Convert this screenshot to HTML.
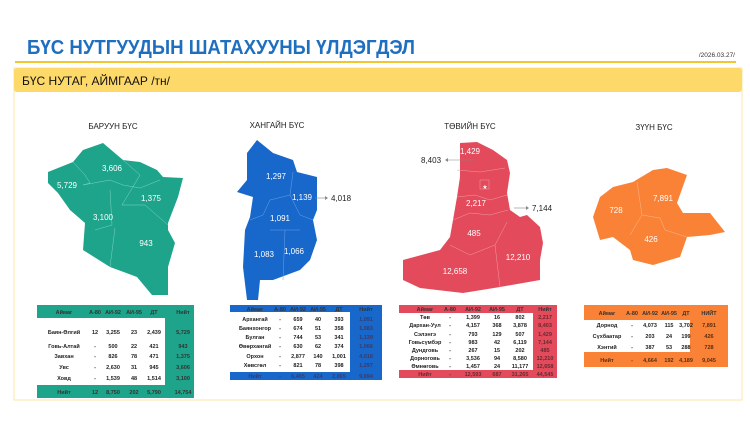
<!DOCTYPE html>
<html><head><meta charset="utf-8"><style>
html,body{margin:0;padding:0;background:#fff;}
svg{display:block;font-family:"Liberation Sans Narrow","Liberation Sans",sans-serif;}
</style></head><body>
<svg width="750" height="422" viewBox="0 0 750 422" xmlns="http://www.w3.org/2000/svg">
<rect width="750" height="422" fill="#fff"/>
<text x="27" y="54" font-size="20" font-weight="bold" fill="#1f6fc1" textLength="388" lengthAdjust="spacingAndGlyphs">БҮС НУТГУУДЫН ШАТАХУУНЫ ҮЛДЭГДЭЛ</text>
<text x="735" y="57" font-size="6.5" fill="#333" text-anchor="end">/2026.03.27/</text>
<rect x="15" y="61" width="721" height="2" fill="#f2c631"/>
<rect x="14" y="68" width="728" height="332" fill="#fff" stroke="#fbe7a8" stroke-width="1"/>
<rect x="14" y="68" width="728" height="24" rx="3" fill="#fcd968"/>
<text x="22" y="85" font-size="12" fill="#111" textLength="148" lengthAdjust="spacingAndGlyphs">БҮС НУТАГ, АЙМГААР /тн/</text>

<g font-size="8" fill="#222" text-anchor="middle">
<text x="113" y="129">БАРУУН БҮС</text>
<text x="277" y="128">ХАНГАЙН БҮС</text>
<text x="470" y="129">ТӨВИЙН БҮС</text>
<text x="654" y="130">ЗҮҮН БҮС</text>
</g>

<!-- teal map -->
<polygon fill="#1ea48a" points="48,172 73,162 83,150 103,143 123,160 140,162 157,170 163,177 183,178 178,197 168,223 168,230 175,243 168,267 168,295 152,295 137,277 110,267 83,250 85,223 70,210 58,193 48,183"/>
<g stroke="#7fd3c2" stroke-width="0.5" fill="none">
<polyline points="73,162 85,175 90,183 83,185"/><polyline points="83,185 110,180 123,185 140,188 160,180"/>
<polyline points="123,160 140,175 122,205"/><polyline points="122,205 145,205 168,225"/>
<polyline points="110,190 112,225 95,230"/><polyline points="115,228 110,267"/>
</g>
<g font-size="8" fill="#fff" text-anchor="middle">
<text x="67" y="188">5,729</text><text x="112" y="171">3,606</text><text x="151" y="201">1,375</text><text x="103" y="220">3,100</text><text x="146" y="246">943</text>
</g>

<!-- blue map -->
<polygon fill="#1868cc" points="257,140 273,153 293,160 297,172 317,177 317,210 313,220 317,240 310,260 300,270 273,280 260,280 258,300 247,300 243,267 245,230 250,217 253,197 237,192 247,180 247,153"/>
<g stroke="#6aa0e6" stroke-width="0.5" fill="none">
<polyline points="293,172 290,195 270,200 263,215 250,220"/><polyline points="290,195 300,215 313,220"/>
<polyline points="270,230 285,230 300,230"/><polyline points="285,230 283,280"/>
</g>
<g font-size="8" fill="#fff" text-anchor="middle">
<text x="276" y="179">1,297</text><text x="302" y="200">1,139</text><text x="280" y="221">1,091</text><text x="264" y="257">1,083</text><text x="294" y="254">1,066</text>
</g>
<line x1="315" y1="198" x2="325" y2="198" stroke="#888" stroke-width="0.6"/><polygon points="325,196 328,198 325,200" fill="#888"/>
<text x="331" y="201" font-size="8" fill="#222">4,018</text>

<!-- red map -->
<polygon fill="#e34a5b" points="460,143 477,142 493,150 507,160 510,173 507,193 510,210 520,217 527,215 540,227 543,243 540,260 540,280 500,287 463,293 420,288 403,280 403,260 440,250 450,237 453,220 457,197 460,177"/>
<g stroke="#f39aa3" stroke-width="0.5" fill="none">
<polyline points="457,170 480,172 505,168"/><polyline points="457,197 475,195 490,200 507,195"/>
<polyline points="453,220 470,213 490,215 508,210"/><polyline points="450,245 470,255 495,245 507,222"/>
<polyline points="495,245 500,287"/>
<rect x="480" y="180" width="9" height="9"/>
</g>
<g font-size="8" fill="#fff" text-anchor="middle">
<text x="470" y="154">1,429</text><text x="476" y="206">2,217</text><text x="474" y="236">485</text><text x="455" y="274">12,658</text><text x="518" y="260">12,210</text>
<text x="485" y="189" font-size="6">★</text>
</g>
<line x1="448" y1="160" x2="474" y2="160" stroke="#888" stroke-width="0.6"/><polygon points="448,158 445,160 448,162" fill="#888"/>
<text x="421" y="163" font-size="8" fill="#222">8,403</text>
<line x1="514" y1="208" x2="526" y2="208" stroke="#888" stroke-width="0.6"/><polygon points="526,206 529,208 526,210" fill="#888"/>
<text x="532" y="211" font-size="8" fill="#222">7,144</text>

<!-- orange map -->
<polygon fill="#f98237" points="593,217 600,197 613,187 633,182 653,170 667,168 687,175 677,203 683,213 710,213 725,232 710,235 687,237 680,257 653,265 633,260 630,250 613,237 600,240"/>
<g stroke="#fcb98a" stroke-width="0.5" fill="none">
<polyline points="637,182 642,215 630,235"/><polyline points="642,215 660,218 665,230 687,237"/>
</g>
<g font-size="8" fill="#fff" text-anchor="middle">
<text x="616" y="213">728</text><text x="663" y="201">7,891</text><text x="651" y="242">426</text>
</g>

<!-- Table 1 teal -->
<g font-size="5.5" font-weight="bold" text-anchor="middle">
<rect x="37" y="305" width="157" height="13" fill="#1ea48a"/>
<rect x="165" y="318" width="29" height="67" fill="#1ea48a"/>
<rect x="37" y="385" width="157" height="13" fill="#1ea48a"/>
<g fill="#333"><text x="64" y="314">Аймаг</text><text x="95" y="314">А-80</text><text x="113" y="314">АИ-92</text><text x="134" y="314">АИ-95</text><text x="154" y="314">ДТ</text><text x="183" y="314">Нийт</text></g>
<g fill="#222">
<text x="64" y="334">Баян-Өлгий</text><text x="95" y="334">12</text><text x="113" y="334">3,255</text><text x="134" y="334">23</text><text x="154" y="334">2,439</text>
<text x="64" y="348">Говь-Алтай</text><text x="95" y="348">-</text><text x="113" y="348">500</text><text x="134" y="348">22</text><text x="154" y="348">421</text>
<text x="64" y="358">Завхан</text><text x="95" y="358">-</text><text x="113" y="358">826</text><text x="134" y="358">78</text><text x="154" y="358">471</text>
<text x="64" y="369">Увс</text><text x="95" y="369">-</text><text x="113" y="369">2,630</text><text x="134" y="369">31</text><text x="154" y="369">945</text>
<text x="64" y="380">Ховд</text><text x="95" y="380">-</text><text x="113" y="380">1,539</text><text x="134" y="380">48</text><text x="154" y="380">1,514</text>
</g>
<g fill="#333"><text x="183" y="334">5,729</text><text x="183" y="348">943</text><text x="183" y="358">1,375</text><text x="183" y="369">3,606</text><text x="183" y="380">3,100</text>
<text x="64" y="394">Нийт</text><text x="95" y="394">12</text><text x="113" y="394">8,750</text><text x="134" y="394">202</text><text x="154" y="394">5,790</text><text x="183" y="394">14,754</text></g>
</g>

<!-- Table 2 blue -->
<g font-size="5.5" font-weight="bold" text-anchor="middle">
<rect x="230" y="305" width="152" height="7" fill="#1868cc"/>
<rect x="350" y="312" width="32" height="60" fill="#1868cc"/>
<rect x="230" y="372" width="152" height="8" fill="#1868cc"/>
<g fill="#333"><text x="255" y="311">Аймаг</text><text x="280" y="311">А-80</text><text x="298" y="311">АИ-92</text><text x="318" y="311">АИ-95</text><text x="339" y="311">ДТ</text><text x="366" y="311">Нийт</text></g>
<g fill="#222">
<text x="255" y="321">Архангай</text><text x="280" y="321">-</text><text x="298" y="321">659</text><text x="318" y="321">40</text><text x="339" y="321">393</text>
<text x="255" y="330">Баянхонгор</text><text x="280" y="330">-</text><text x="298" y="330">674</text><text x="318" y="330">51</text><text x="339" y="330">358</text>
<text x="255" y="339">Булган</text><text x="280" y="339">-</text><text x="298" y="339">744</text><text x="318" y="339">53</text><text x="339" y="339">341</text>
<text x="255" y="348">Өвөрхангай</text><text x="280" y="348">-</text><text x="298" y="348">630</text><text x="318" y="348">62</text><text x="339" y="348">374</text>
<text x="255" y="358">Орхон</text><text x="280" y="358">-</text><text x="298" y="358">2,877</text><text x="318" y="358">140</text><text x="339" y="358">1,001</text>
<text x="255" y="367">Хөвсгөл</text><text x="280" y="367">-</text><text x="298" y="367">821</text><text x="318" y="367">78</text><text x="339" y="367">398</text>
</g>
<g fill="#3a3a6a"><text x="366" y="321">1,091</text><text x="366" y="330">1,083</text><text x="366" y="339">1,139</text><text x="366" y="348">1,066</text><text x="366" y="358">4,018</text><text x="366" y="367">1,297</text>
<text x="255" y="378">Нийт</text><text x="280" y="378">-</text><text x="298" y="378">6,405</text><text x="318" y="378">424</text><text x="339" y="378">2,865</text><text x="366" y="378">9,694</text></g>
</g>

<!-- Table 3 red -->
<g font-size="5.5" font-weight="bold" text-anchor="middle">
<rect x="399" y="305" width="158" height="8" fill="#e34a5b"/>
<rect x="533" y="313" width="24" height="57" fill="#e34a5b"/>
<rect x="399" y="370" width="158" height="8" fill="#e34a5b"/>
<g fill="#333"><text x="425" y="311">Аймаг</text><text x="450" y="311">А-80</text><text x="473" y="311">АИ-92</text><text x="497" y="311">АИ-95</text><text x="520" y="311">ДТ</text><text x="545" y="311">Нийт</text></g>
<g fill="#222">
<text x="425" y="319">Төв</text><text x="450" y="319">-</text><text x="473" y="319">1,399</text><text x="497" y="319">16</text><text x="520" y="319">802</text>
<text x="425" y="327">Дархан-Уул</text><text x="450" y="327">-</text><text x="473" y="327">4,157</text><text x="497" y="327">368</text><text x="520" y="327">3,878</text>
<text x="425" y="336">Сэлэнгэ</text><text x="450" y="336">-</text><text x="473" y="336">793</text><text x="497" y="336">129</text><text x="520" y="336">507</text>
<text x="425" y="344">Говьсүмбэр</text><text x="450" y="344">-</text><text x="473" y="344">983</text><text x="497" y="344">42</text><text x="520" y="344">6,119</text>
<text x="425" y="352">Дундговь</text><text x="450" y="352">-</text><text x="473" y="352">267</text><text x="497" y="352">15</text><text x="520" y="352">202</text>
<text x="425" y="360">Дорноговь</text><text x="450" y="360">-</text><text x="473" y="360">3,536</text><text x="497" y="360">94</text><text x="520" y="360">8,580</text>
<text x="425" y="368">Өмнөговь</text><text x="450" y="368">-</text><text x="473" y="368">1,457</text><text x="497" y="368">24</text><text x="520" y="368">11,177</text>
</g>
<g fill="#6a2a30"><text x="545" y="319">2,217</text><text x="545" y="327">8,403</text><text x="545" y="336">1,429</text><text x="545" y="344">7,144</text><text x="545" y="352">485</text><text x="545" y="360">12,210</text><text x="545" y="368">12,658</text>
<text x="425" y="376">Нийт</text><text x="450" y="376">-</text><text x="473" y="376">12,593</text><text x="497" y="376">687</text><text x="520" y="376">31,265</text><text x="545" y="376">44,545</text></g>
</g>

<!-- Table 4 orange -->
<g font-size="5.5" font-weight="bold" text-anchor="middle">
<rect x="584" y="305" width="144" height="15" fill="#f98237"/>
<rect x="690" y="320" width="38" height="32" fill="#f98237"/>
<rect x="584" y="352" width="144" height="15" fill="#f98237"/>
<g fill="#333"><text x="607" y="315">Аймаг</text><text x="632" y="315">А-80</text><text x="650" y="315">АИ-92</text><text x="669" y="315">АИ-95</text><text x="686" y="315">ДТ</text><text x="709" y="315">НИЙТ</text></g>
<g fill="#222">
<text x="607" y="327">Дорнод</text><text x="632" y="327">-</text><text x="650" y="327">4,073</text><text x="669" y="327">115</text><text x="686" y="327">3,702</text>
<text x="607" y="338">Сүхбаатар</text><text x="632" y="338">-</text><text x="650" y="338">203</text><text x="669" y="338">24</text><text x="686" y="338">199</text>
<text x="607" y="349">Хэнтий</text><text x="632" y="349">-</text><text x="650" y="349">387</text><text x="669" y="349">53</text><text x="686" y="349">288</text>
</g>
<g fill="#5a2e10"><text x="709" y="327">7,891</text><text x="709" y="338">426</text><text x="709" y="349">728</text>
<text x="607" y="362">Нийт</text><text x="632" y="362">-</text><text x="650" y="362">4,664</text><text x="669" y="362">192</text><text x="686" y="362">4,189</text><text x="709" y="362">9,045</text></g>
</g>
</svg>
</body></html>
